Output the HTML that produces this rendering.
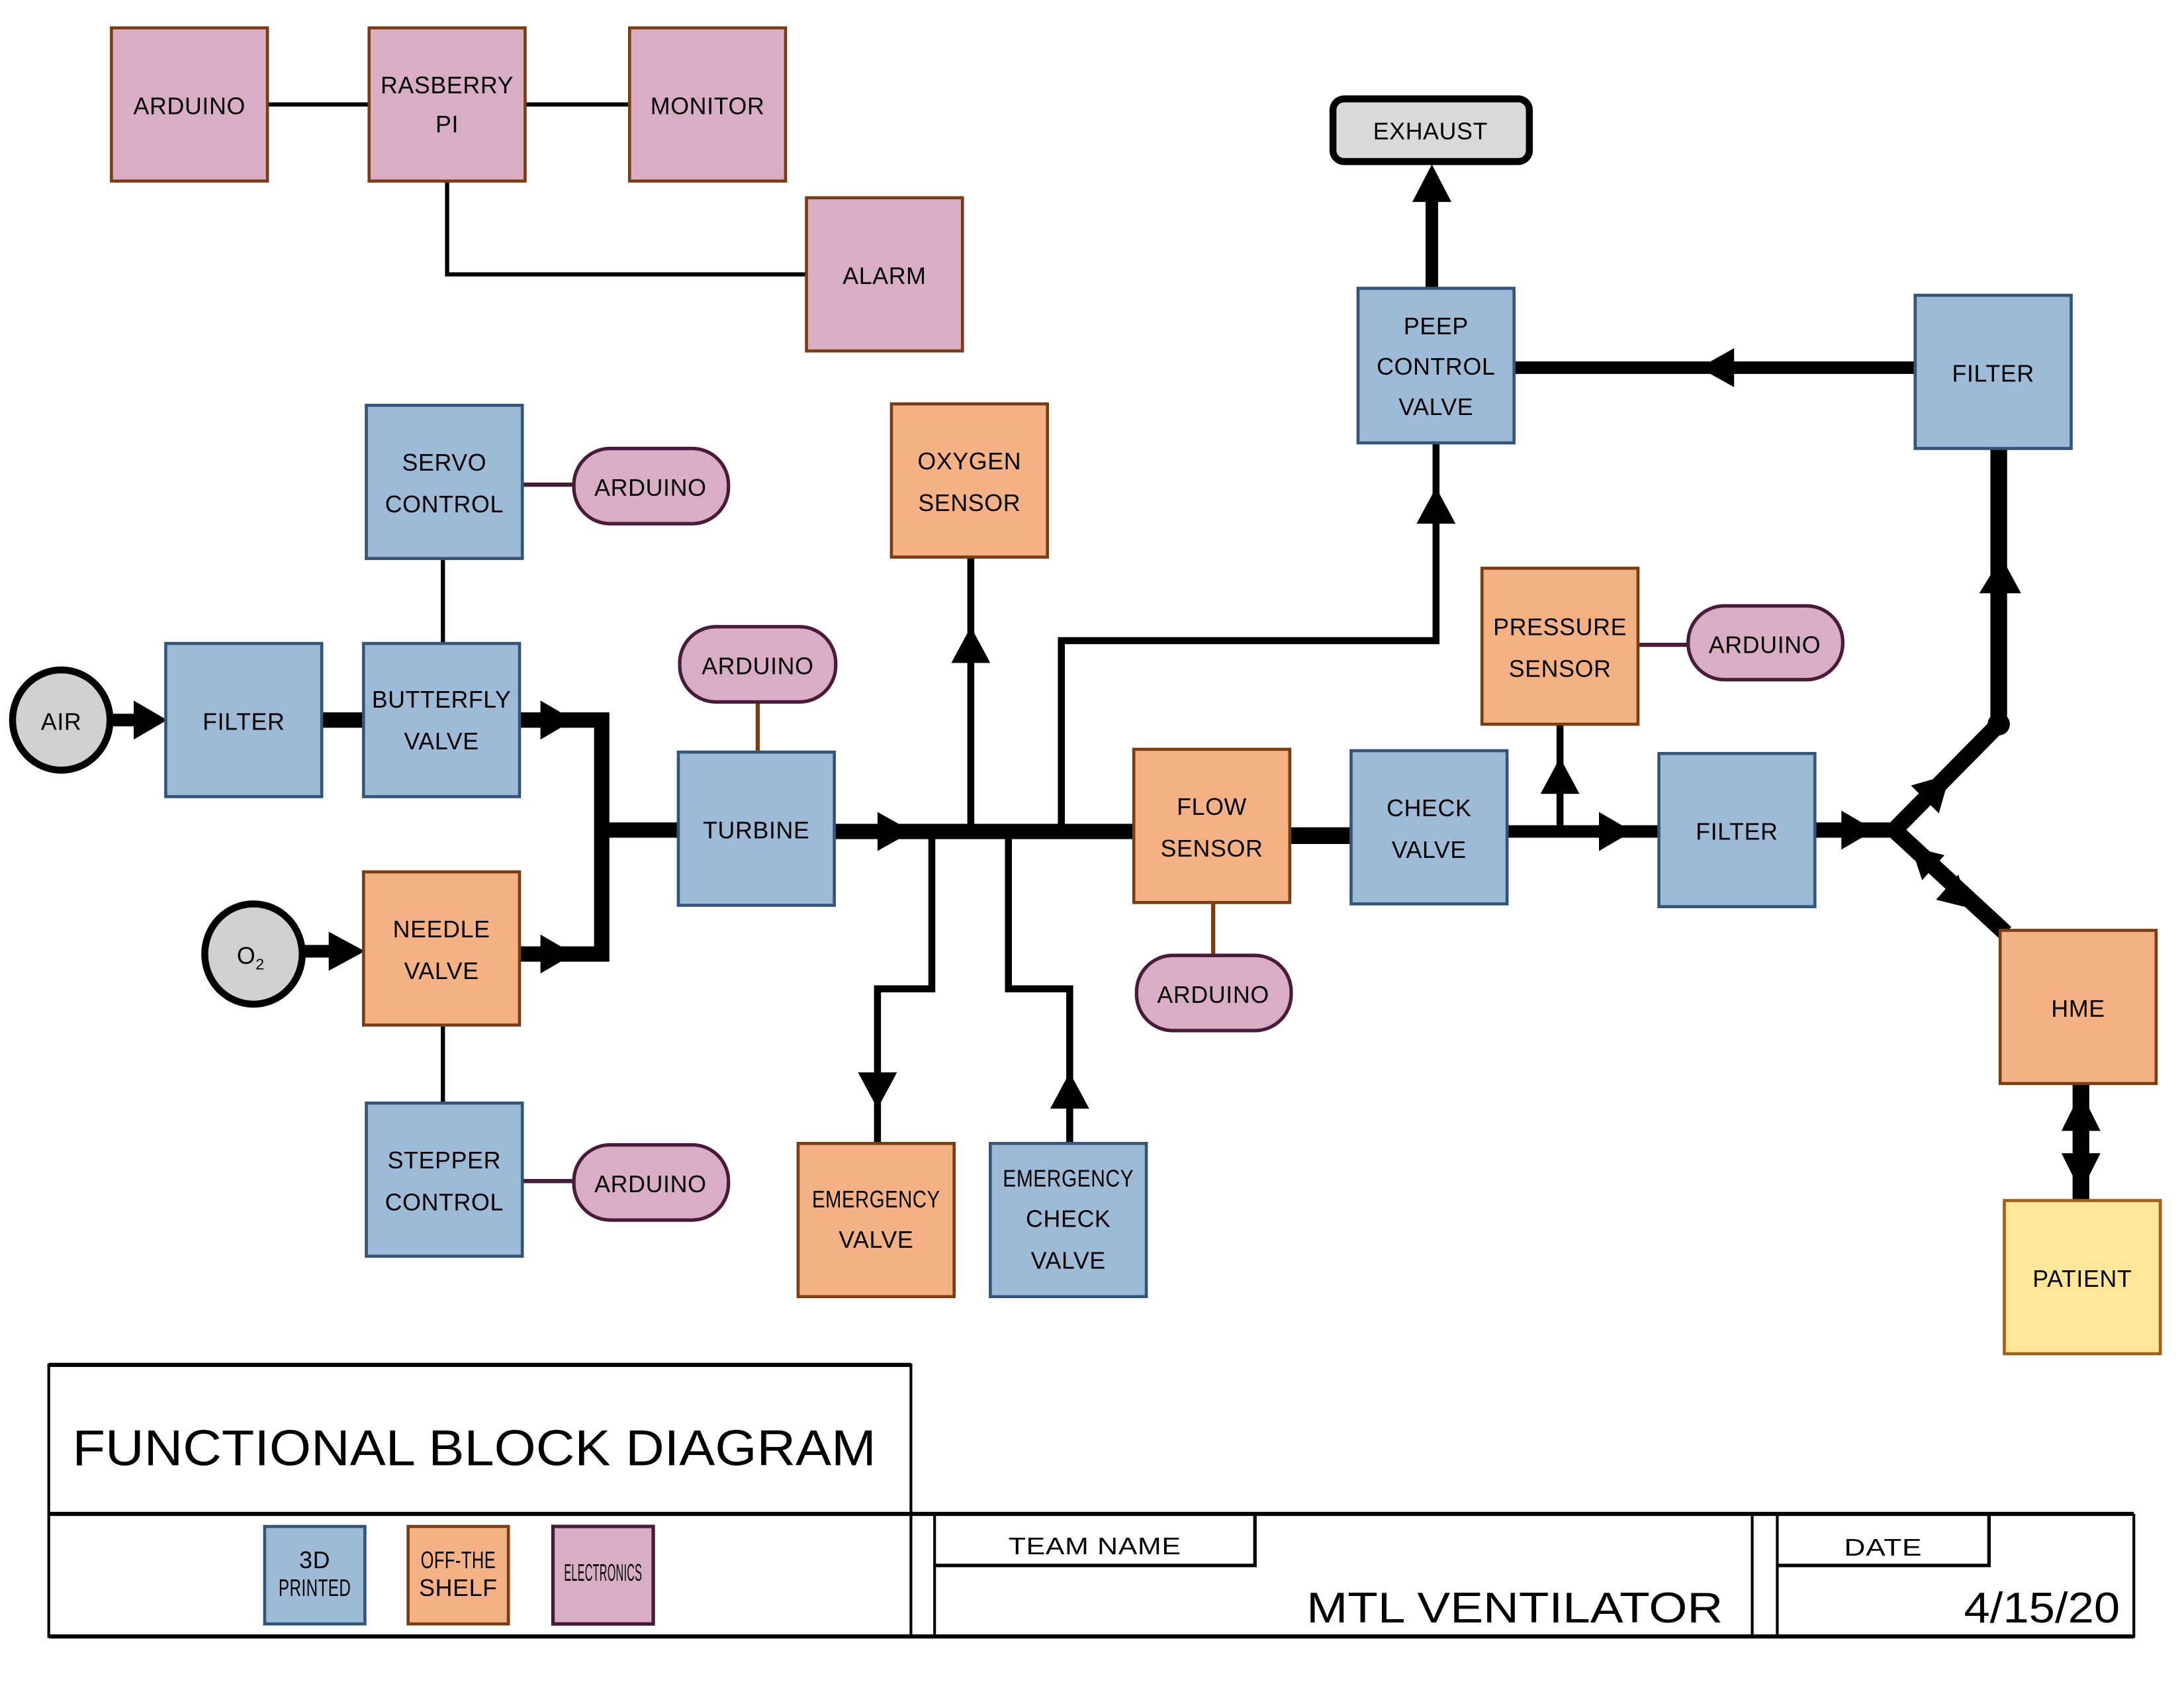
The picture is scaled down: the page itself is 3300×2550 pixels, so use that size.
<!DOCTYPE html>
<html><head><meta charset="utf-8"><style>
html,body{margin:0;padding:0;background:#fff;}
svg{display:block;}
text{font-family:"Liberation Sans",sans-serif;fill:#000;}
</style></head><body>
<svg width="3300" height="2550" viewBox="0 0 1568 1212" preserveAspectRatio="none" xmlns="http://www.w3.org/2000/svg">
<defs>
<style>
.b{fill:#9dbad6;stroke:#34557a;stroke-width:2.2}
.o{fill:#f4b183;stroke:#7a3d12;stroke-width:2.2}
.p{fill:#d9aec4;stroke:#7a3d12;stroke-width:2.2}
.pp{fill:#d9aec4;stroke:#4a1a3a;stroke-width:2.5}
.y{fill:#ffe699;stroke:#a0621a;stroke-width:2.2}
.t{font-size:17px;text-anchor:middle;letter-spacing:0.3px}
.k{stroke:#000;fill:none}
</style>
</defs>

<!-- top electronics -->
<g class="k" stroke-width="3">
<line x1="192" y1="75" x2="265" y2="75"/>
<line x1="377" y1="75" x2="452" y2="75"/>
<polyline points="321,130 321,197 579,197"/>
</g>
<rect class="p" x="80" y="20" width="112" height="110"/>
<rect class="p" x="265" y="20" width="112" height="110"/>
<rect class="p" x="452" y="20" width="112" height="110"/>
<rect class="p" x="579" y="142" width="112" height="110"/>
<text class="t" x="136" y="82">ARDUINO</text>
<text class="t" x="321" y="67">RASBERRY</text>
<text class="t" x="321" y="95">PI</text>
<text class="t" x="508" y="82">MONITOR</text>
<text class="t" x="635" y="204">ALARM</text>

<!-- exhaust -->
<rect x="957" y="71" width="141" height="45" rx="8" fill="#d9d9d9" stroke="#000" stroke-width="5"/>
<text class="t" x="1027" y="100">EXHAUST</text>

<!-- connectors (thick) -->
<g class="k">
<line x1="79" y1="517" x2="100" y2="517" stroke-width="9"/>
<line x1="231" y1="517" x2="261" y2="517" stroke-width="11"/>
<polyline points="373,517 432,517 432,685 373,685" stroke-width="11"/>
<line x1="432" y1="596" x2="487" y2="596" stroke-width="11"/>
<line x1="217" y1="683" x2="240" y2="683" stroke-width="9"/>
<line x1="600" y1="597" x2="814" y2="597" stroke-width="11"/>
<line x1="926" y1="600" x2="970" y2="600" stroke-width="12"/>
<line x1="1082" y1="597" x2="1191" y2="597" stroke-width="9"/>
<line x1="1303" y1="596" x2="1360" y2="596" stroke-width="11"/>
<polyline points="1360,596 1435,520 1435,322" stroke-width="12" stroke-linejoin="round"/>
<line x1="1360" y1="596" x2="1440" y2="670" stroke-width="12"/>
<line x1="1494" y1="778" x2="1494" y2="862" stroke-width="12"/>
<line x1="1375" y1="264" x2="1087" y2="264" stroke-width="9"/>
<line x1="1028" y1="207" x2="1028" y2="140" stroke-width="9"/>
<line x1="697" y1="597" x2="697" y2="400" stroke-width="5"/>
<polyline points="669,597 669,710 630,710 630,821" stroke-width="5"/>
<polyline points="724,597 724,710 768,710 768,821" stroke-width="5"/>
<polyline points="762,597 762,460 1031,460 1031,318" stroke-width="5"/>
<line x1="1120" y1="597" x2="1120" y2="520" stroke-width="5"/>
</g>
<g fill="#000">
<circle cx="669" cy="597" r="5"/><circle cx="697" cy="597" r="5"/><circle cx="724" cy="597" r="5"/><circle cx="762" cy="597" r="5"/>
<circle cx="1435" cy="520" r="8"/>
<!-- arrowheads -->
<polygon points="96,503 120,517 96,531"/>
<polygon points="236,669 262,683 236,697"/>
<polygon points="388,503 412,517 388,531"/>
<polygon points="388,671 412,685 388,699"/>
<polygon points="630,583 655,597 630,611"/>
<polygon points="683,476 697,450 711,476"/>
<polygon points="616,770 630,796 644,770"/>
<polygon points="754,796 768,770 782,796"/>
<polygon points="1017,376 1031,350 1045,376"/>
<polygon points="1106,570 1120,544 1134,570"/>
<polygon points="1148,583 1172,597 1148,611"/>
<polygon points="1322,582 1346,596 1322,610"/>
<polygon points="1421,426 1437,400 1451,426"/>
<polygon points="1245,250 1220,264 1245,278"/>
<polygon points="1014,145 1028,118 1042,145"/>
<polygon points="1400,556 1392,584 1372,564"/>
<polygon points="1372,608 1396,614 1380,632"/>
<polygon points="1414,652 1406,628 1390,646"/>
<polygon points="1480,812 1494,784 1508,812"/>
<polygon points="1480,828 1494,856 1508,828"/>
</g>

<!-- thin connectors -->
<g class="k" stroke-width="3">
<line x1="318" y1="401" x2="318" y2="462"/>
<line x1="318" y1="737" x2="318" y2="792"/>
</g>
<g stroke="#4a1a3a" stroke-width="3">
<line x1="375" y1="348" x2="412" y2="348"/>
<line x1="375" y1="848" x2="412" y2="848"/>
<line x1="1176" y1="463" x2="1212" y2="463"/>
</g>
<g stroke="#7a3d12" stroke-width="3">
<line x1="544" y1="504" x2="544" y2="540"/>
<line x1="871" y1="648" x2="871" y2="686"/>
</g>

<!-- circles -->
<ellipse cx="44" cy="517" rx="35" ry="36" fill="#d0d0d0" stroke="#000" stroke-width="5"/>
<text class="t" x="44" y="524">AIR</text>
<ellipse cx="182" cy="685" rx="35" ry="36" fill="#d0d0d0" stroke="#000" stroke-width="5"/>
<text class="t" x="180" y="692">O<tspan font-size="11" dy="4">2</tspan></text>

<!-- blocks -->
<rect class="b" x="975" y="207" width="112" height="111"/>
<text class="t" x="1031" y="240">PEEP</text><text class="t" x="1031" y="269">CONTROL</text><text class="t" x="1031" y="298">VALVE</text>
<rect class="b" x="1375" y="212" width="112" height="110"/>
<text class="t" x="1431" y="274">FILTER</text>
<rect class="b" x="263" y="291" width="112" height="110"/>
<text class="t" x="319" y="338">SERVO</text><text class="t" x="319" y="368">CONTROL</text>
<rect class="pp" x="412" y="322" width="111" height="54" rx="26"/>
<text class="t" x="467" y="356">ARDUINO</text>
<rect class="o" x="640" y="290" width="112" height="110"/>
<text class="t" x="696" y="337">OXYGEN</text><text class="t" x="696" y="367">SENSOR</text>
<rect class="o" x="1064" y="408" width="112" height="112"/>
<text class="t" x="1120" y="456">PRESSURE</text><text class="t" x="1120" y="486">SENSOR</text>
<rect class="pp" x="1212" y="435" width="111" height="53" rx="26"/>
<text class="t" x="1267" y="469">ARDUINO</text>
<rect class="pp" x="488" y="450" width="112" height="54" rx="26"/>
<text class="t" x="544" y="484">ARDUINO</text>
<rect class="b" x="119" y="462" width="112" height="110"/>
<text class="t" x="175" y="524">FILTER</text>
<rect class="b" x="261" y="462" width="112" height="110"/>
<text class="t" x="317" y="508" textLength="100" lengthAdjust="spacingAndGlyphs">BUTTERFLY</text><text class="t" x="317" y="538">VALVE</text>
<rect class="b" x="487" y="540" width="112" height="110"/>
<text class="t" x="543" y="602">TURBINE</text>
<rect class="o" x="814" y="538" width="112" height="110"/>
<text class="t" x="870" y="585">FLOW</text><text class="t" x="870" y="615">SENSOR</text>
<rect class="b" x="970" y="539" width="112" height="110"/>
<text class="t" x="1026" y="586">CHECK</text><text class="t" x="1026" y="616">VALVE</text>
<rect class="b" x="1191" y="541" width="112" height="110"/>
<text class="t" x="1247" y="603">FILTER</text>
<rect class="o" x="1436" y="668" width="112" height="110"/>
<text class="t" x="1492" y="730">HME</text>
<rect class="y" x="1439" y="862" width="112" height="110"/>
<text class="t" x="1495" y="924">PATIENT</text>
<rect class="o" x="261" y="626" width="112" height="110"/>
<text class="t" x="317" y="673">NEEDLE</text><text class="t" x="317" y="703">VALVE</text>
<rect class="pp" x="816" y="686" width="111" height="54" rx="26"/>
<text class="t" x="871" y="720">ARDUINO</text>
<rect class="b" x="263" y="792" width="112" height="110"/>
<text class="t" x="319" y="839">STEPPER</text><text class="t" x="319" y="869">CONTROL</text>
<rect class="pp" x="412" y="822" width="111" height="54" rx="26"/>
<text class="t" x="467" y="856">ARDUINO</text>
<rect class="o" x="573" y="821" width="112" height="110"/>
<text class="t" x="629" y="867" font-size="14" textLength="92" lengthAdjust="spacingAndGlyphs">EMERGENCY</text><text class="t" x="629" y="896">VALVE</text>
<rect class="b" x="711" y="821" width="112" height="110"/>
<text class="t" x="767" y="852" font-size="14" textLength="94" lengthAdjust="spacingAndGlyphs">EMERGENCY</text><text class="t" x="767" y="881">CHECK</text><text class="t" x="767" y="911">VALVE</text>

<!-- title block -->
<g fill="none" stroke="#000">
<line x1="35" y1="980" x2="654" y2="980" stroke-width="3"/>
<line x1="35" y1="979" x2="35" y2="1176" stroke-width="2"/>
<line x1="654" y1="979" x2="654" y2="1176" stroke-width="2"/>
<line x1="35" y1="1087" x2="1532" y2="1087" stroke-width="3"/>
<line x1="35" y1="1175" x2="1532" y2="1175" stroke-width="3"/>
<line x1="671" y1="1087" x2="671" y2="1176" stroke-width="2"/>
<line x1="1258" y1="1087" x2="1258" y2="1176" stroke-width="2"/>
<line x1="1276" y1="1087" x2="1276" y2="1176" stroke-width="2"/>
<line x1="1532" y1="1087" x2="1532" y2="1176" stroke-width="2"/>
<polyline points="901,1087 901,1124 671,1124" stroke-width="2.5"/>
<polyline points="1428,1087 1428,1124 1276,1124" stroke-width="2.5"/>
</g>
<text x="52" y="1052" font-size="36" textLength="577" lengthAdjust="spacingAndGlyphs">FUNCTIONAL  BLOCK  DIAGRAM</text>
<rect class="b" x="190" y="1096" width="72" height="70"/>
<rect class="o" x="293" y="1096" width="72" height="70"/>
<rect class="pp" x="397" y="1096" width="72" height="70" stroke-width="2"/>
<text class="t" x="226" y="1126" font-size="11">3D</text><text class="t" x="226" y="1146" font-size="11" textLength="52" lengthAdjust="spacingAndGlyphs">PRINTED</text>
<text class="t" x="329" y="1126" font-size="11" textLength="54" lengthAdjust="spacingAndGlyphs">OFF-THE</text><text class="t" x="329" y="1146" font-size="11">SHELF</text>
<text class="t" x="433" y="1135" font-size="7" textLength="56" lengthAdjust="spacingAndGlyphs">ELECTRONICS</text>
<text class="t" x="786" y="1116" font-size="19" textLength="124" lengthAdjust="spacingAndGlyphs">TEAM  NAME</text>
<text class="t" x="1352" y="1117" font-size="19" textLength="56" lengthAdjust="spacingAndGlyphs">DATE</text>
<text x="938" y="1165" font-size="31" textLength="299" lengthAdjust="spacingAndGlyphs">MTL  VENTILATOR</text>
<text x="1410" y="1165" font-size="31" textLength="112" lengthAdjust="spacingAndGlyphs">4/15/20</text>
</svg>
</body></html>
